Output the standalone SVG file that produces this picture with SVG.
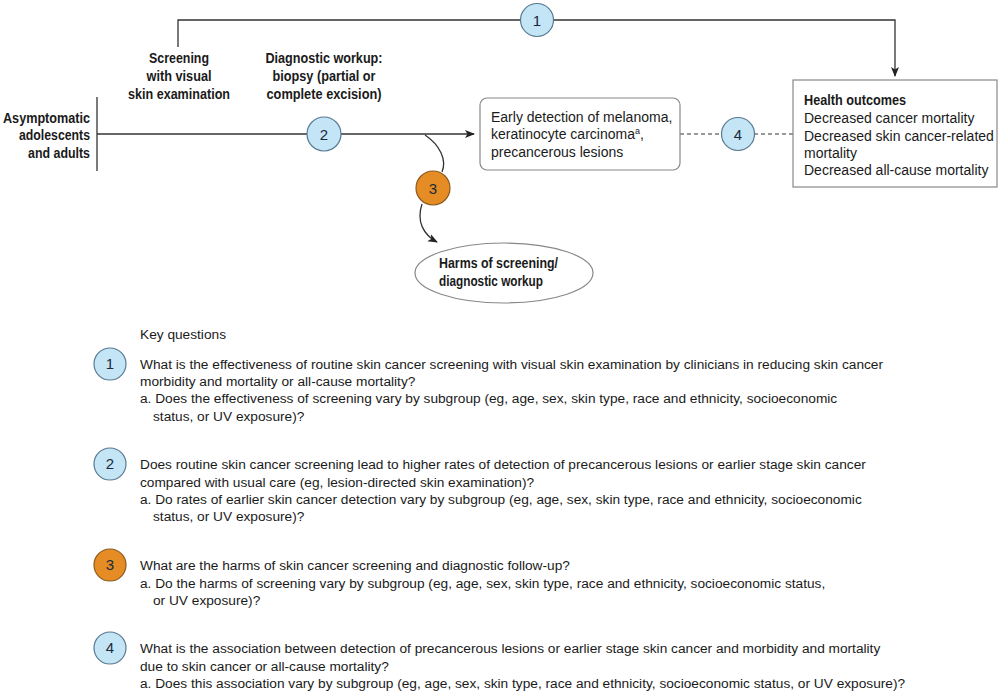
<svg xmlns="http://www.w3.org/2000/svg" width="1000" height="695" viewBox="0 0 1000 695">
<defs>
<style>
text{font-family:"Liberation Sans",Arial,sans-serif;font-size:14px;fill:#1a1a1a}
.b{font-weight:bold;font-size:15px}
.m{text-anchor:middle}
.e{text-anchor:end}
.ln{fill:none;stroke:#333;stroke-width:1.3}
.ds{fill:none;stroke:#333;stroke-width:1.2;stroke-dasharray:4,3}
.blue{fill:#c4e5f6;stroke:#587a92;stroke-width:1.2}
.or{fill:#e58c24;stroke:#8b5a1e;stroke-width:1.2}
.box{fill:#fff;stroke:#888;stroke-width:1.2}
.n{font-size:15px;text-anchor:middle;fill:#1a2a3a}
.q{font-size:13.7px}
</style>
<marker id="ah" markerWidth="10" markerHeight="10" refX="9" refY="5" orient="auto" markerUnits="userSpaceOnUse">
<path d="M0,1 L10,5 L0,9 L2.5,5 Z" fill="#222"/>
</marker>
</defs>
<rect width="1000" height="695" fill="#fff"/>

<g id="connectors">
<path class="ln" d="M178,47 V20 H895 V76" marker-end="url(#ah)"/>
<path class="ln" d="M97,97 V171"/>
<path class="ln" d="M97,134 H474" marker-end="url(#ah)"/>
<path class="ln" d="M425,135 C440,145 447,160 442,172"/>
<path class="ln" d="M422,204 C416,222 424,235 437,242" marker-end="url(#ah)"/>
<path class="ds" d="M680,134 H722"/>
<path class="ds" d="M754,134 H793"/>
</g>

<g id="label-screening">
<text class="b m" x="179" y="62.5" textLength="60" lengthAdjust="spacingAndGlyphs">Screening</text>
<text class="b m" x="179" y="80.5" textLength="65" lengthAdjust="spacingAndGlyphs">with visual</text>
<text class="b m" x="179" y="98.5" textLength="102" lengthAdjust="spacingAndGlyphs">skin examination</text>
</g>
<g id="label-diagnostic">
<text class="b m" x="324" y="62.5" textLength="117" lengthAdjust="spacingAndGlyphs">Diagnostic workup:</text>
<text class="b m" x="324" y="80.5" textLength="103" lengthAdjust="spacingAndGlyphs">biopsy (partial or</text>
<text class="b m" x="324" y="98.5" textLength="115" lengthAdjust="spacingAndGlyphs">complete excision)</text>
</g>
<g id="node-population">
<text class="b e" x="90" y="122.5" textLength="87" lengthAdjust="spacingAndGlyphs">Asymptomatic</text>
<text class="b e" x="90" y="139.5" textLength="71" lengthAdjust="spacingAndGlyphs">adolescents</text>
<text class="b e" x="90" y="157.5" textLength="62" lengthAdjust="spacingAndGlyphs">and adults</text>
</g>

<g id="kq1-top"><circle class="blue" cx="537" cy="20" r="16.5"/><text class="n" x="537" y="25.5">1</text></g>
<g id="kq2-top"><circle class="blue" cx="324" cy="134" r="17"/><text class="n" x="324" y="139.5">2</text></g>
<g id="kq3-top"><circle class="or" cx="433" cy="188" r="17"/><text class="n" x="433" y="193.5">3</text></g>
<g id="kq4-top"><circle class="blue" cx="738" cy="134" r="16.5"/><text class="n" x="738" y="139.5">4</text></g>

<g id="node-early">
<rect class="box" x="480" y="98" width="200" height="72" rx="7"/>
<text x="491" y="122">Early detection of melanoma,</text>
<text x="491" y="139">keratinocyte carcinoma<tspan font-size="9" dy="-5">a</tspan><tspan dy="5">,</tspan></text>
<text x="491" y="157">precancerous lesions</text>
</g>

<g id="node-outcomes">
<rect class="box" x="793" y="80" width="204" height="107"/>
<text class="b" x="804" y="104.5" textLength="102" lengthAdjust="spacingAndGlyphs">Health outcomes</text>
<text x="804" y="123">Decreased cancer mortality</text>
<text x="804" y="141">Decreased skin cancer-related</text>
<text x="804" y="158">mortality</text>
<text x="804" y="175">Decreased all-cause mortality</text>
</g>

<g id="node-harms">
<ellipse class="box" cx="504" cy="273" rx="89" ry="30"/>
<text class="b" x="439" y="267.5" textLength="119" lengthAdjust="spacingAndGlyphs">Harms of screening/</text>
<text class="b" x="439" y="285.5" textLength="104" lengthAdjust="spacingAndGlyphs">diagnostic workup</text>
</g>

<g id="key-questions">
<text x="140" y="339" class="q">Key questions</text>

<circle class="blue" cx="110" cy="364" r="16"/><text class="n" x="110" y="369">1</text>
<text class="q" x="140" y="369">What is the effectiveness of routine skin cancer screening with visual skin examination by clinicians in reducing skin cancer</text>
<text class="q" x="140" y="386">morbidity and mortality or all-cause mortality?</text>
<text class="q" x="140" y="403">a. Does the effectiveness of screening vary by subgroup (eg, age, sex, skin type, race and ethnicity, socioeconomic</text>
<text class="q" x="153" y="421">status, or UV exposure)?</text>

<circle class="blue" cx="110" cy="464" r="16"/><text class="n" x="110" y="469">2</text>
<text class="q" x="140" y="469">Does routine skin cancer screening lead to higher rates of detection of precancerous lesions or earlier stage skin cancer</text>
<text class="q" x="140" y="487">compared with usual care (eg, lesion-directed skin examination)?</text>
<text class="q" x="140" y="504">a. Do rates of earlier skin cancer detection vary by subgroup (eg, age, sex, skin type, race and ethnicity, socioeconomic</text>
<text class="q" x="153" y="521">status, or UV exposure)?</text>

<circle class="or" cx="110" cy="565" r="16"/><text class="n" x="110" y="570">3</text>
<text class="q" x="140" y="570">What are the harms of skin cancer screening and diagnostic follow-up?</text>
<text class="q" x="140" y="588">a. Do the harms of screening vary by subgroup (eg, age, sex, skin type, race and ethnicity, socioeconomic status,</text>
<text class="q" x="153" y="605">or UV exposure)?</text>

<circle class="blue" cx="110" cy="648" r="16"/><text class="n" x="110" y="653">4</text>
<text class="q" x="140" y="653">What is the association between detection of precancerous lesions or earlier stage skin cancer and morbidity and mortality</text>
<text class="q" x="140" y="671">due to skin cancer or all-cause mortality?</text>
<text class="q" x="140" y="688">a. Does this association vary by subgroup (eg, age, sex, skin type, race and ethnicity, socioeconomic status, or UV exposure)?</text>
</g>
</svg>
